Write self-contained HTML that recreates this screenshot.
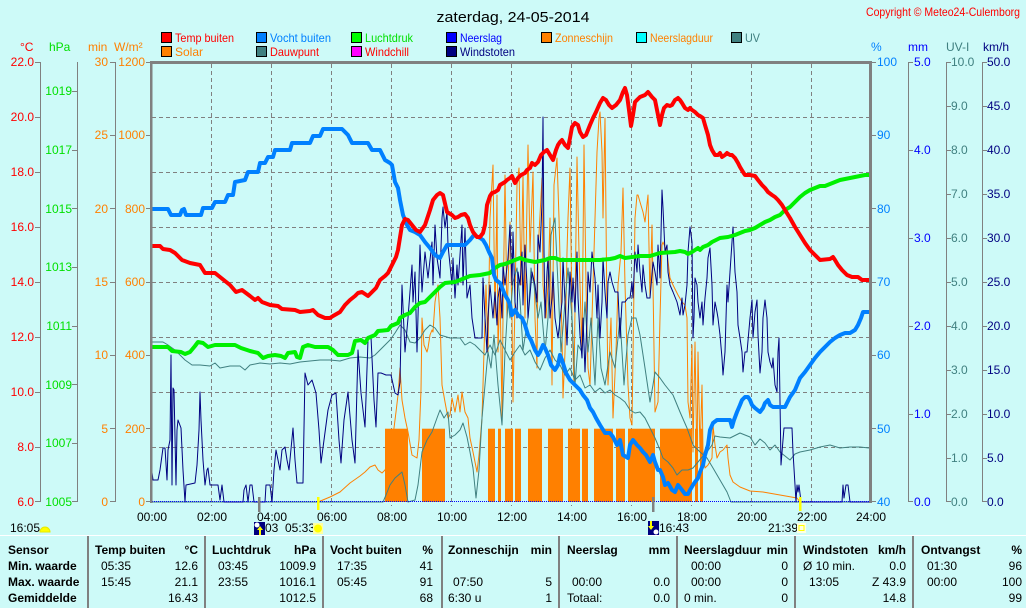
<!DOCTYPE html>
<html><head><meta charset="utf-8"><style>
html,body{margin:0;padding:0;background:#CDFAF8;}
svg{display:block;font-family:"Liberation Sans",Arial,sans-serif;}
</style></head><body>
<svg width="1026" height="608" viewBox="0 0 1026 608" xmlns="http://www.w3.org/2000/svg">
<rect x="0" y="0" width="1026" height="608" fill="#CDFAF8"/>
<!-- title -->
<text x="513" y="22" font-size="15" text-anchor="middle" textLength="153" lengthAdjust="spacingAndGlyphs" fill="#000">zaterdag, 24-05-2014</text>
<text x="866" y="16" font-size="12" fill="#FF0000" textLength="154" lengthAdjust="spacingAndGlyphs">Copyright © Meteo24-Culemborg</text>
<!-- legend -->
<g font-size="12">
<rect x="161.5" y="32.5" width="10" height="10" fill="#FF0000" stroke="#000"/><text x="175" y="42" fill="#FF0000" textLength="59" lengthAdjust="spacingAndGlyphs">Temp buiten</text>
<rect x="256.5" y="32.5" width="10" height="10" fill="#0080FF" stroke="#000"/><text x="270" y="42" fill="#0080FF" textLength="61" lengthAdjust="spacingAndGlyphs">Vocht buiten</text>
<rect x="351.5" y="32.5" width="10" height="10" fill="#00FF00" stroke="#000"/><text x="365" y="42" fill="#00E000" textLength="48" lengthAdjust="spacingAndGlyphs">Luchtdruk</text>
<rect x="446.5" y="32.5" width="10" height="10" fill="#0000FF" stroke="#000"/><text x="460" y="42" fill="#0000FF" textLength="42" lengthAdjust="spacingAndGlyphs">Neerslag</text>
<rect x="541.5" y="32.5" width="10" height="10" fill="#FF8000" stroke="#000"/><text x="555" y="42" fill="#FF8000" textLength="58" lengthAdjust="spacingAndGlyphs">Zonneschijn</text>
<rect x="636.5" y="32.5" width="10" height="10" fill="#00FFFF" stroke="#000"/><text x="650" y="42" fill="#FF8000" textLength="63" lengthAdjust="spacingAndGlyphs">Neerslagduur</text>
<rect x="731.5" y="32.5" width="10" height="10" fill="#408080" stroke="#000"/><text x="745" y="42" fill="#408080" textLength="15" lengthAdjust="spacingAndGlyphs">UV</text>
<rect x="161.5" y="46.5" width="10" height="10" fill="#FF8000" stroke="#000"/><text x="175" y="56" fill="#FF8000" textLength="28" lengthAdjust="spacingAndGlyphs">Solar</text>
<rect x="256.5" y="46.5" width="10" height="10" fill="#408080" stroke="#000"/><text x="270" y="56" fill="#FF0000" textLength="49" lengthAdjust="spacingAndGlyphs">Dauwpunt</text>
<rect x="351.5" y="46.5" width="10" height="10" fill="#FF00FF" stroke="#000"/><text x="365" y="56" fill="#FF0000" textLength="44" lengthAdjust="spacingAndGlyphs">Windchill</text>
<rect x="446.5" y="46.5" width="10" height="10" fill="#000080" stroke="#000"/><text x="460" y="56" fill="#000080" textLength="55" lengthAdjust="spacingAndGlyphs">Windstoten</text>
</g>
<!-- unit labels -->
<g font-size="12">
<text x="20" y="51" fill="#FF0000">°C</text>
<text x="49" y="51" fill="#00E000">hPa</text>
<text x="88" y="51" fill="#FF8000">min</text>
<text x="114" y="51" fill="#FF8000">W/m²</text>
<text x="871" y="51" fill="#0080FF">%</text>
<text x="908" y="51" fill="#0000FF">mm</text>
<text x="946" y="51" fill="#408080">UV-I</text>
<text x="983" y="51" fill="#000080">km/h</text>
</g>
<!-- axis lines -->
<g stroke="#808080" stroke-width="1" fill="none">
<line x1="40.5" y1="62" x2="40.5" y2="502"/>
<line x1="77.5" y1="62" x2="77.5" y2="502"/>
<line x1="115.5" y1="62" x2="115.5" y2="502"/>
<line x1="908.5" y1="62" x2="908.5" y2="502"/>
<line x1="946.5" y1="62" x2="946.5" y2="502"/>
<line x1="982.5" y1="62" x2="982.5" y2="502"/>
</g>
<!-- left ticks -->
<g stroke="#808080" stroke-width="1">
<line x1="35" y1="62.5" x2="40" y2="62.5"/><line x1="35" y1="117.5" x2="40" y2="117.5"/><line x1="35" y1="172.5" x2="40" y2="172.5"/><line x1="35" y1="227.5" x2="40" y2="227.5"/><line x1="35" y1="282.5" x2="40" y2="282.5"/><line x1="35" y1="337.5" x2="40" y2="337.5"/><line x1="35" y1="392.5" x2="40" y2="392.5"/><line x1="35" y1="447.5" x2="40" y2="447.5"/><line x1="35" y1="501.5" x2="40" y2="501.5"/>
<line x1="72" y1="91.5" x2="77" y2="91.5"/><line x1="72" y1="150.5" x2="77" y2="150.5"/><line x1="72" y1="208.5" x2="77" y2="208.5"/><line x1="72" y1="267.5" x2="77" y2="267.5"/><line x1="72" y1="326.5" x2="77" y2="326.5"/><line x1="72" y1="384.5" x2="77" y2="384.5"/><line x1="72" y1="443.5" x2="77" y2="443.5"/><line x1="72" y1="501.5" x2="77" y2="501.5"/>
<line x1="110" y1="62.5" x2="115" y2="62.5"/><line x1="110" y1="135.5" x2="115" y2="135.5"/><line x1="110" y1="208.5" x2="115" y2="208.5"/><line x1="110" y1="282.5" x2="115" y2="282.5"/><line x1="110" y1="355.5" x2="115" y2="355.5"/><line x1="110" y1="428.5" x2="115" y2="428.5"/><line x1="110" y1="501.5" x2="115" y2="501.5"/>
<line x1="146" y1="62.5" x2="151" y2="62.5"/><line x1="146" y1="135.5" x2="151" y2="135.5"/><line x1="146" y1="208.5" x2="151" y2="208.5"/><line x1="146" y1="282.5" x2="151" y2="282.5"/><line x1="146" y1="355.5" x2="151" y2="355.5"/><line x1="146" y1="428.5" x2="151" y2="428.5"/><line x1="146" y1="501.5" x2="151" y2="501.5"/>
<!-- right ticks -->
<line x1="871" y1="62.5" x2="876" y2="62.5"/><line x1="871" y1="135.5" x2="876" y2="135.5"/><line x1="871" y1="208.5" x2="876" y2="208.5"/><line x1="871" y1="282.5" x2="876" y2="282.5"/><line x1="871" y1="355.5" x2="876" y2="355.5"/><line x1="871" y1="428.5" x2="876" y2="428.5"/><line x1="871" y1="501.5" x2="876" y2="501.5"/>
<line x1="908" y1="62.5" x2="913" y2="62.5"/><line x1="908" y1="150.5" x2="913" y2="150.5"/><line x1="908" y1="238.5" x2="913" y2="238.5"/><line x1="908" y1="326.5" x2="913" y2="326.5"/><line x1="908" y1="414.5" x2="913" y2="414.5"/><line x1="908" y1="501.5" x2="913" y2="501.5"/>
<line x1="946" y1="62.5" x2="951" y2="62.5"/><line x1="946" y1="106.5" x2="951" y2="106.5"/><line x1="946" y1="150.5" x2="951" y2="150.5"/><line x1="946" y1="194.5" x2="951" y2="194.5"/><line x1="946" y1="238.5" x2="951" y2="238.5"/><line x1="946" y1="282.5" x2="951" y2="282.5"/><line x1="946" y1="326.5" x2="951" y2="326.5"/><line x1="946" y1="370.5" x2="951" y2="370.5"/><line x1="946" y1="414.5" x2="951" y2="414.5"/><line x1="946" y1="458.5" x2="951" y2="458.5"/><line x1="946" y1="501.5" x2="951" y2="501.5"/>
<line x1="982" y1="62.5" x2="987" y2="62.5"/><line x1="982" y1="106.5" x2="987" y2="106.5"/><line x1="982" y1="150.5" x2="987" y2="150.5"/><line x1="982" y1="194.5" x2="987" y2="194.5"/><line x1="982" y1="238.5" x2="987" y2="238.5"/><line x1="982" y1="282.5" x2="987" y2="282.5"/><line x1="982" y1="326.5" x2="987" y2="326.5"/><line x1="982" y1="370.5" x2="987" y2="370.5"/><line x1="982" y1="414.5" x2="987" y2="414.5"/><line x1="982" y1="458.5" x2="987" y2="458.5"/><line x1="982" y1="501.5" x2="987" y2="501.5"/>
</g>
<!-- left labels -->
<g font-size="12" fill="#FF0000" text-anchor="end">
<text x="34" y="66">22.0</text><text x="34" y="121">20.0</text><text x="34" y="176">18.0</text><text x="34" y="231">16.0</text><text x="34" y="286">14.0</text><text x="34" y="341">12.0</text><text x="34" y="396">10.0</text><text x="34" y="451">8.0</text><text x="34" y="506">6.0</text>
</g>
<g font-size="12" fill="#00E000" text-anchor="end">
<text x="72" y="95">1019</text><text x="72" y="154">1017</text><text x="72" y="213">1015</text><text x="72" y="271">1013</text><text x="72" y="330">1011</text><text x="72" y="389">1009</text><text x="72" y="447">1007</text><text x="72" y="506">1005</text>
</g>
<g font-size="12" fill="#FF8000" text-anchor="end">
<text x="108" y="66">30</text><text x="108" y="139">25</text><text x="108" y="213">20</text><text x="108" y="286">15</text><text x="108" y="359">10</text><text x="108" y="433">5</text><text x="108" y="506">0</text>
<text x="145" y="66">1200</text><text x="145" y="139">1000</text><text x="145" y="213">800</text><text x="145" y="286">600</text><text x="145" y="359">400</text><text x="145" y="433">200</text><text x="145" y="506">0</text>
</g>
<!-- right labels -->
<g font-size="12" fill="#0080FF">
<text x="877" y="66">100</text><text x="877" y="139">90</text><text x="877" y="213">80</text><text x="877" y="286">70</text><text x="877" y="359">60</text><text x="877" y="433">50</text><text x="877" y="506">40</text>
</g>
<g font-size="12" fill="#0000FF">
<text x="914" y="66">5.0</text><text x="914" y="154">4.0</text><text x="914" y="242">3.0</text><text x="914" y="330">2.0</text><text x="914" y="418">1.0</text><text x="914" y="506">0.0</text>
</g>
<g font-size="12" fill="#408080">
<text x="951" y="66">10.0</text><text x="951" y="110">9.0</text><text x="951" y="154">8.0</text><text x="951" y="198">7.0</text><text x="951" y="242">6.0</text><text x="951" y="286">5.0</text><text x="951" y="330">4.0</text><text x="951" y="374">3.0</text><text x="951" y="418">2.0</text><text x="951" y="462">1.0</text><text x="951" y="506">0.0</text>
</g>
<g font-size="12" fill="#000080">
<text x="987" y="66">50.0</text><text x="987" y="110">45.0</text><text x="987" y="154">40.0</text><text x="987" y="198">35.0</text><text x="987" y="242">30.0</text><text x="987" y="286">25.0</text><text x="987" y="330">20.0</text><text x="987" y="374">15.0</text><text x="987" y="418">10.0</text><text x="987" y="462">5.0</text><text x="987" y="506">0.0</text>
</g>
<!-- grid -->
<g stroke="#808080" stroke-width="1" stroke-dasharray="4,3" fill="none">
<line x1="152" y1="117.5" x2="869" y2="117.5"/><line x1="152" y1="172.5" x2="869" y2="172.5"/><line x1="152" y1="227.5" x2="869" y2="227.5"/><line x1="152" y1="282.5" x2="869" y2="282.5"/><line x1="152" y1="337.5" x2="869" y2="337.5"/><line x1="152" y1="392.5" x2="869" y2="392.5"/><line x1="152" y1="447.5" x2="869" y2="447.5"/>
<line x1="211.5" y1="64" x2="211.5" y2="506"/><line x1="271.5" y1="64" x2="271.5" y2="506"/><line x1="331.5" y1="64" x2="331.5" y2="506"/><line x1="391.5" y1="64" x2="391.5" y2="506"/><line x1="451.5" y1="64" x2="451.5" y2="506"/><line x1="511.5" y1="64" x2="511.5" y2="506"/><line x1="571.5" y1="64" x2="571.5" y2="506"/><line x1="631.5" y1="64" x2="631.5" y2="506"/><line x1="691.5" y1="64" x2="691.5" y2="506"/><line x1="751.5" y1="64" x2="751.5" y2="506"/><line x1="811.5" y1="64" x2="811.5" y2="506"/>
</g>
<!-- sunshine bars -->
<g fill="#FF8000">
<rect x="385" y="428.7" width="23" height="73.3"/><rect x="422" y="428.7" width="23" height="73.3"/><rect x="488" y="428.7" width="7" height="73.3"/><rect x="498" y="428.7" width="3" height="73.3"/><rect x="505" y="428.7" width="8" height="73.3"/><rect x="515" y="428.7" width="6" height="73.3"/><rect x="528" y="428.7" width="14" height="73.3"/><rect x="548" y="428.7" width="15" height="73.3"/><rect x="568" y="428.7" width="12" height="73.3"/><rect x="582" y="428.7" width="6" height="73.3"/><rect x="594" y="428.7" width="19" height="73.3"/><rect x="616" y="428.7" width="9" height="73.3"/><rect x="628" y="428.7" width="27" height="73.3"/><rect x="660" y="428.7" width="32" height="73.3"/><rect x="695" y="428.7" width="3" height="73.3"/><rect x="700" y="428.7" width="3" height="73.3"/>
</g>
<!-- thin series -->
<g fill="none" stroke-width="1" stroke-linejoin="round">
<polyline stroke="#FF8000" points="318,502 330,497 340,492 350,483 360,476 365,472 370,467 375,465 378,470 382,473 385,470 388,462 390,450 392,440 394,428 396,412 398,395 400,368 402,400 405,418 408,432 412,455 417,458 419,440 421,390 422,318 424,345 427,352 428,348 430,335 432,330 433,332 435,302 437,290 438,285 440,318 442,385 445,402 448,418 450,415 452,398 455,412 458,395 460,412 462,392 465,412 468,418 470,438 473,452 475,462 477,472 479,455 482,418 483,385 485,318 486,285 488,352 490,218 493,165 495,318 497,195 498,352 500,285 502,418 503,318 505,175 507,318 510,222 512,318 513,402 515,302 517,185 519,168 521,285 523,175 525,318 528,145 530,252 533,172 535,318 537,368 538,252 542,178 543,285 546,318 548,285 550,218 552,385 554,185 557,158 559,218 562,335 563,398 565,352 567,252 568,218 570,168 572,318 574,385 577,157 579,252 582,352 584,145 586,285 588,368 590,385 592,318 594,252 597,152 599,118 600,112 602,152 603,218 605,118 607,318 608,385 611,318 613,418 616,352 618,285 621,252 623,188 625,285 628,385 630,418 632,425 635,218 637,195 638,195 640,202 643,212 645,222 648,195 650,298 652,225 653,285 655,412 658,402 660,318 662,245 663,242 667,252 670,278 673,285 678,295 682,302 685,305 687,318 688,402 690,418 692,345 693,452 695,342 697,468 698,352 700,452 702,385 703,452 705,468 708,465 712,458 713,425 715,445 717,458 720,452 723,450 727,445 728,458 730,475 733,482 740,487 750,491 763,492 780,495 797,498 800,502"/>
<polyline stroke="#408080" points="151,502 383,502 386,495 390,485 395,478 402,472 405,485 408,502 415,500 418,485 422,452 427,440 432,432 437,418 440,410 444,418 448,412 450,438 455,435 460,430 463,423 467,437 470,452 473,468 476,498 479,470 482,418 485,385 488,352 491,368 494,335 498,385 502,425 505,352 508,302 510,318 513,282 517,268 520,300 523,350 528,318 531,268 534,285 538,318 541,302 545,352 548,318 551,235 555,218 558,285 561,352 565,302 568,268 572,318 575,385 578,345 582,352 585,302 588,352 591,318 595,385 598,318 601,368 605,385 610,352 615,368 620,318 624,385 628,335 632,318 636,318 640,335 645,368 650,402 653,385 655,372 660,378 665,385 673,395 680,412 687,428 693,445 700,452 707,458 713,468 720,480 727,492 731,502 869,502"/>
<polyline stroke="#408080" points="151,342 163,342 168,345 175,350 180,355 185,360 192,365 200,365 210,366 215,363 220,368 230,366 240,366 245,370 250,365 260,363 270,364 280,363 290,364 300,362 310,361 320,360 330,360 340,361 350,358 360,357 370,358 375,355 380,350 385,345 390,340 395,333 400,325 405,330 410,342 415,343 420,338 425,330 430,325 435,328 440,335 450,338 460,338 465,345 470,342 475,345 480,350 485,355 490,345 495,355 500,340 505,350 510,360 515,352 520,345 525,355 530,350 535,362 540,370 545,358 550,350 555,360 560,365 565,375 570,368 575,380 580,375 585,388 590,385 595,392 600,388 605,393 610,390 615,395 620,398 625,402 630,410 635,413 640,412 645,418 650,428 655,438 660,450 663,458 668,462 673,468 677,475 682,470 688,470 693,468 698,462 703,456 707,452 712,445 715,436 720,437 730,438 740,433 750,437 755,445 760,439 765,443 770,450 775,445 780,452 785,456 790,460 795,454 800,452 810,450 820,447 830,445 840,448 850,447 860,447 869,448"/>
<polyline stroke="#000080" points="151,465 153,480 158,480 160,470 163,448 165,448 167,480 168,450 170,440 171,355 172,485 173,388 174,390 176,485 177,430 178,420 181,428 183,470 185,502 186,485 195,483 197,465 199,430 200,392 201,420 203,460 205,485 207,470 208,468 210,485 218,485 220,500 222,485 224,502 243,502 244,490 246,485 248,502 250,485 252,485 254,502 265,502 266,485 270,485 272,502 274,470 276,450 278,460 280,470 282,450 285,447 287,460 289,470 293,428 295,460 297,483 303,483 305,373 308,385 312,380 316,393 319,430 321,463 324,440 328,410 332,395 336,393 339,440 341,463 344,420 348,392 352,440 355,463 358,350 361,393 365,427 368,340 371,337 374,400 376,427 378,373 381,373 386,375 391,375 395,393 398,395 400,382 402,285 405,352 408,318 412,265 413,302 415,272 417,352 420,245 422,292 425,252 428,278 432,242 433,285 435,225 437,258 440,278 442,218 443,207 445,228 447,212 448,245 452,285 453,258 455,298 457,265 458,285 462,225 463,285 465,228 467,298 470,285 472,318 475,338 482,338 483,278 485,318 487,352 488,318 490,285 493,318 495,292 497,325 498,298 500,285 502,318 503,265 505,285 508,258 510,225 512,285 513,232 515,302 517,318 518,272 520,285 522,252 523,305 525,245 527,285 528,318 532,272 535,285 537,302 538,235 540,252 542,202 543,117 544,252 545,318 547,272 548,258 550,318 552,298 553,272 555,318 558,338 562,302 563,258 565,302 567,345 568,318 570,272 572,302 573,278 575,312 577,252 578,298 580,335 582,358 583,318 585,372 587,318 588,272 590,292 592,252 595,278 597,318 598,285 600,338 602,302 603,258 605,292 607,318 608,282 610,272 612,282 615,292 618,292 620,338 622,302 625,302 628,298 630,298 632,282 633,298 635,252 637,272 638,245 640,272 642,292 643,265 645,285 647,298 650,298 653,262 655,272 657,285 658,245 660,278 662,190 663,208 665,252 667,245 668,272 670,285 673,292 677,302 680,315 682,298 683,315 685,305 687,285 688,252 690,227 692,242 693,338 694,318 695,278 697,285 698,302 700,318 702,302 703,325 705,298 707,278 708,258 710,248 712,285 713,325 715,302 717,312 718,318 720,335 722,358 723,375 725,352 727,285 728,302 730,272 733,227 735,272 737,292 738,325 740,338 742,352 743,372 745,352 747,352 750,318 752,300 753,338 755,312 757,300 758,335 760,373 762,352 763,318 765,300 767,318 768,352 770,362 772,368 773,358 775,385 777,392 778,352 779,338 781,465 783,440 784,428 792,428 793,452 795,485 796,502 797,485 798,492 799,485 801,502 842,502 843,485 844,498 846,485 848,485 850,502 869,502"/>
</g>
<!-- thick series -->
<g fill="none" stroke-width="4" stroke-linejoin="round" stroke-linecap="butt">
<polyline stroke="#00F000" points="151,347 168,347 172,351 181,352 185,354 190,352 195,346 198,342 203,343 208,347 215,345 235,345 241,348 250,351 258,353 263,358 268,356 275,355 281,356 285,358 288,353 295,352 297,357 300,358 303,347 308,345 315,347 328,347 333,350 338,355 348,355 352,353 355,341 361,340 365,343 368,338 375,335 378,331 388,330 391,326 398,323 400,318 405,315 410,313 415,307 420,303 425,302 430,297 435,292 440,287 445,283 455,282 460,280 465,278 470,276 480,275 485,274 490,273 495,268 500,265 505,264 510,262 515,260 520,258 525,260 535,262 545,260 550,258 555,258 560,260 600,260 610,259 615,258 620,256 625,258 640,256 650,256 660,253 675,252 680,251 685,252 688,254 692,252 695,250 698,248 700,250 703,247 708,245 712,242 716,240 720,238 728,237 735,235 740,233 745,231 750,230 755,228 760,225 765,222 770,220 775,217 780,215 785,210 790,207 795,202 800,197 805,193 810,190 815,188 820,186 825,186 830,184 835,182 840,180 850,178 860,176 865,175 869,175"/>
<polyline stroke="#0080FF" points="151,209 168,209 171,215 180,215 182,210 184,209 186,215 201,215 203,208 212,208 215,202 225,202 228,195 233,195 235,182 245,180 248,172 258,172 260,163 265,163 268,157 273,157 275,150 290,150 292,143 310,143 313,136 320,136 323,129 342,129 345,132 348,135 352,143 368,143 372,150 380,150 385,160 390,163 392,165 395,182 398,188 400,200 403,215 407,225 410,230 415,232 420,235 425,242 430,248 435,255 440,258 443,252 447,245 465,245 470,240 474,235 480,238 483,240 486,245 489,252 492,258 494,275 496,280 500,283 503,290 505,295 508,300 510,305 512,315 515,310 518,315 522,318 525,325 528,335 531,340 535,350 538,355 540,352 543,345 545,348 548,355 551,365 555,370 558,365 560,355 562,360 566,373 570,380 575,385 580,390 583,395 587,400 590,408 593,412 596,418 600,425 605,433 610,433 613,437 617,445 620,440 623,455 628,458 630,445 633,440 637,445 640,448 643,452 646,455 650,462 653,455 655,462 658,470 660,470 663,477 665,485 668,483 672,490 675,492 678,485 682,490 685,494 688,494 690,490 693,485 695,482 698,478 700,472 703,465 705,455 708,445 710,430 713,423 717,420 730,420 732,427 734,420 737,412 740,405 742,400 745,397 748,397 750,400 752,405 755,408 760,412 763,408 765,403 768,400 770,405 773,407 785,407 790,397 795,390 800,378 805,372 810,365 815,358 820,352 825,347 830,342 835,338 840,335 845,333 850,333 855,330 858,325 861,318 863,312 869,312"/>
<polyline stroke="#FF0000" points="151,246 160,246 163,249 170,250 175,253 182,260 190,263 200,265 205,273 215,273 220,277 230,285 236,292 242,290 250,296 255,300 258,298 262,302 270,305 278,306 282,309 295,310 300,312 310,311 313,310 318,315 325,318 330,318 333,316 340,312 345,305 350,300 355,296 358,293 362,292 368,296 372,292 376,288 380,280 385,276 388,273 392,265 396,257 398,250 402,225 405,219 408,220 412,225 416,230 420,232 425,225 430,210 433,200 437,195 440,193 443,195 447,212 452,215 455,218 458,217 461,215 465,214 468,218 470,225 473,232 477,237 480,237 483,233 485,225 487,205 490,196 492,193 495,192 498,190 500,185 505,182 507,180 510,178 512,176 515,183 518,178 521,175 525,173 527,170 530,168 532,163 535,165 538,162 541,155 544,152 547,150 550,155 553,160 556,150 558,145 560,142 562,140 565,145 568,148 570,138 572,127 575,123 578,125 580,132 583,137 586,135 590,125 593,118 596,112 600,103 603,98 606,100 609,105 612,108 616,105 620,100 623,92 625,88 627,95 629,110 631,126 633,115 635,102 640,97 645,95 648,92 652,97 655,100 658,115 660,125 662,115 664,108 667,105 670,106 672,105 675,100 678,98 680,100 682,103 685,108 688,110 690,108 692,110 695,112 698,115 700,116 703,118 705,125 708,135 710,145 712,150 715,155 718,155 720,153 722,157 725,155 727,153 730,155 732,155 735,158 738,163 740,167 743,172 745,175 750,175 755,176 758,180 762,185 765,188 768,192 772,195 775,197 778,200 782,205 785,210 790,218 795,227 800,235 805,243 810,250 815,255 820,260 830,259 833,257 835,260 838,265 842,270 847,275 852,277 858,277 862,280 869,280"/>
</g>
<!-- neerslag zero line -->
<line x1="152" y1="501.5" x2="869" y2="501.5" stroke="#0000FF" stroke-width="1" stroke-dasharray="1,1"/>
<!-- plot borders -->
<rect x="150" y="61" width="722" height="3" fill="#808080"/>
<rect x="150" y="61" width="2.5" height="442" fill="#808080"/>
<rect x="869" y="61" width="3" height="442" fill="#808080"/>
<!-- x-axis event ticks -->
<rect x="258" y="497" width="2.5" height="15" fill="#808080"/>
<rect x="652" y="497" width="2.5" height="15" fill="#808080"/>
<rect x="317" y="497" width="2.5" height="13" fill="#FFFF00"/>
<rect x="799" y="497" width="2.5" height="14" fill="#FFFF00"/>
<!-- x labels -->
<g font-size="12" fill="#000" text-anchor="middle">
<text x="152" y="521">00:00</text><text x="212" y="521">02:00</text><text x="272" y="521">04:00</text><text x="332" y="521">06:00</text><text x="392" y="521">08:00</text><text x="452" y="521">10:00</text><text x="512" y="521">12:00</text><text x="572" y="521">14:00</text><text x="632" y="521">16:00</text><text x="692" y="521">18:00</text><text x="752" y="521">20:00</text><text x="812" y="521">22:00</text><text x="871" y="521">24:00</text>
</g>
<!-- sun/moon markers -->
<g font-size="12" fill="#000">
<text x="10" y="532">16:05</text>
<path d="M40,532 A5,5 0 0 1 50,532 Z" fill="#FFFF00" stroke="#E8E800"/>
<rect x="254" y="522" width="11" height="13" fill="#000080"/>
<circle cx="257" cy="525" r="2.5" fill="#FFFFFF"/>
<path d="M260,526 L263,530 L261,530 L261,535 L259,535 L259,530 L257,530 Z" fill="#FFFF00"/>
<text x="265" y="532">03</text>
<text x="285" y="532">05:33</text>
<rect x="313" y="523" width="10" height="11" fill="#FFFFA0"/>
<circle cx="318" cy="528.5" r="4" fill="#FFFF00"/>
<rect x="648" y="521" width="11" height="14" fill="#000080"/>
<circle cx="656" cy="532" r="2.5" fill="#FFFFFF"/>
<path d="M651,530 L654,526 L652,526 L652,521 L650,521 L650,526 L648,526 Z" fill="#FFFF00"/>
<text x="659" y="532">16:43</text>
<text x="768" y="532">21:39</text>
<rect x="797" y="523" width="9" height="10" fill="#FFFFE0"/>
<rect x="799" y="525.5" width="5" height="5" fill="none" stroke="#FFFF00" stroke-width="1"/>
</g>
<!-- table -->
<line x1="0" y1="535.5" x2="1026" y2="535.5" stroke="#FFFFFF" stroke-width="1"/>
<g fill="#808080">
<rect x="87" y="536" width="2" height="72"/><rect x="204" y="536" width="2" height="72"/><rect x="322" y="536" width="2" height="72"/><rect x="441" y="536" width="2" height="72"/><rect x="558" y="536" width="2" height="72"/><rect x="676" y="536" width="2" height="72"/><rect x="794" y="536" width="2" height="72"/><rect x="912" y="536" width="2" height="72"/>
</g>
<g font-size="12" font-weight="bold" fill="#000">
<text x="8" y="554">Sensor</text><text x="8" y="570">Min. waarde</text><text x="8" y="586">Max. waarde</text><text x="8" y="602">Gemiddelde</text>
<text x="95" y="554">Temp buiten</text><text x="198" y="554" text-anchor="end">°C</text>
<text x="212" y="554">Luchtdruk</text><text x="316" y="554" text-anchor="end">hPa</text>
<text x="330" y="554">Vocht buiten</text><text x="433" y="554" text-anchor="end">%</text>
<text x="448" y="554">Zonneschijn</text><text x="552" y="554" text-anchor="end">min</text>
<text x="567" y="554">Neerslag</text><text x="670" y="554" text-anchor="end">mm</text>
<text x="684" y="554">Neerslagduur</text><text x="788" y="554" text-anchor="end">min</text>
<text x="803" y="554">Windstoten</text><text x="906" y="554" text-anchor="end">km/h</text>
<text x="921" y="554">Ontvangst</text><text x="1022" y="554" text-anchor="end">%</text>
</g>
<g font-size="12" fill="#000">
<text x="101" y="570">05:35</text><text x="198" y="570" text-anchor="end">12.6</text>
<text x="101" y="586">15:45</text><text x="198" y="586" text-anchor="end">21.1</text>
<text x="198" y="602" text-anchor="end">16.43</text>
<text x="218" y="570">03:45</text><text x="316" y="570" text-anchor="end">1009.9</text>
<text x="218" y="586">23:55</text><text x="316" y="586" text-anchor="end">1016.1</text>
<text x="316" y="602" text-anchor="end">1012.5</text>
<text x="337" y="570">17:35</text><text x="433" y="570" text-anchor="end">41</text>
<text x="337" y="586">05:45</text><text x="433" y="586" text-anchor="end">91</text>
<text x="433" y="602" text-anchor="end">68</text>
<text x="453" y="586">07:50</text><text x="552" y="586" text-anchor="end">5</text>
<text x="448" y="602">6:30 u</text><text x="552" y="602" text-anchor="end">1</text>
<text x="572" y="586">00:00</text><text x="670" y="586" text-anchor="end">0.0</text>
<text x="567" y="602">Totaal:</text><text x="670" y="602" text-anchor="end">0.0</text>
<text x="691" y="570">00:00</text><text x="788" y="570" text-anchor="end">0</text>
<text x="691" y="586">00:00</text><text x="788" y="586" text-anchor="end">0</text>
<text x="684" y="602">0 min.</text><text x="788" y="602" text-anchor="end">0</text>
<text x="803" y="570">Ø 10 min.</text><text x="906" y="570" text-anchor="end">0.0</text>
<text x="809" y="586">13:05</text><text x="906" y="586" text-anchor="end">Z 43.9</text>
<text x="906" y="602" text-anchor="end">14.8</text>
<text x="927" y="570">01:30</text><text x="1022" y="570" text-anchor="end">96</text>
<text x="927" y="586">00:00</text><text x="1022" y="586" text-anchor="end">100</text>
<text x="1022" y="602" text-anchor="end">99</text>
</g>
</svg>
</body></html>
